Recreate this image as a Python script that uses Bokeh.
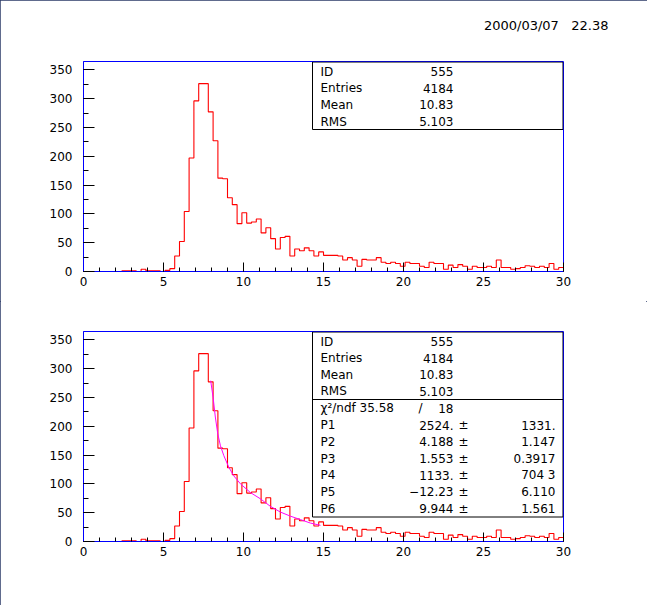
import numpy as np
from bokeh.plotting import figure
from bokeh.models import Range1d, SingleIntervalTicker, ColumnDataSource
from bokeh.layouts import column
from bokeh.embed import file_html
from bokeh.resources import INLINE
from bokeh.core.properties import value

# ---------------- data ----------------
x_min, x_max, n_bins = 0.0, 30.0, 100
counts = [0, 0, 0, 0, 0, 0, 0, 0, 1, 1,
          1, 0, 4, 1, 1, 1, 0, 2, 5, 27,
          52, 104, 197, 296, 326, 326, 277, 227, 162, 161,
          128, 116, 83, 102, 84, 86, 91, 67, 76, 57,
          39, 59, 61, 27, 39, 36, 41, 36, 27, 34,
          28, 28, 28, 27, 20, 24, 20, 9, 21, 20,
          20, 24, 16, 14, 16, 14, 9, 16, 14, 14,
          9, 7, 16, 14, 14, 4, 11, 7, 12, 9,
          4, 9, 7, 7, 9, 7, 20, 7, 7, 4,
          5, 7, 10, 9, 7, 9, 7, 14, 4, 7]

fit_x = [7.95, 8.10, 8.24, 8.39, 8.56, 8.77, 9.08, 9.39, 9.81, 10.43,
         11.06, 11.68, 12.31, 12.93, 13.56, 14.18, 14.81]
fit_y = [279, 250, 216, 187, 166, 149, 129, 114, 100, 85,
         74, 61, 51, 44, 38, 32, 28]

stat_labels = ["ID", "Entries", "Mean", "RMS"]
stat_values = ["555", "4184", "10.83", "5.103"]
chi_label = "\u03c7\u00b2/ndf 35.58"
chi_sep = "/"
chi_ndf = "18"
par_labels = ["P1", "P2", "P3", "P4", "P5", "P6"]
par_values = ["2524.", "4.188", "1.553", "1133.", "\u221212.23", "9.944"]
par_errors = ["1331.", "1.147", "0.3917", "704 3", "6.110", "1.561"]
date_text = "2000/03/07\u00a0\u00a0\u00a022.38"

y_top = 364.4
FONT = "DejaVu Sans"
FS = "12px"

# pixel helpers (frame: 480 x 210 px, left edge at page x=83)
def X(px):
    return (px - 83.0) / 480.0 * (x_max - x_min)

def Yf(py, bottom):
    return (bottom - py) / 210.0 * y_top

edges = list(np.linspace(x_min, x_max, n_bins + 1))
step_y = counts + [counts[-1]]


def make_panel(top_border, bottom_border, title=None):
    p = figure(frame_width=480, frame_height=210,
               min_border_left=83, min_border_right=84,
               min_border_top=top_border, min_border_bottom=bottom_border,
               x_range=Range1d(x_min, x_max), y_range=Range1d(0, y_top),
               output_backend="svg", toolbar_location=None, title=title)
    p.xgrid.visible = False
    p.ygrid.visible = False
    p.outline_line_color = "#0000ff"
    p.outline_line_width = 1
    p.background_fill_color = "white"
    p.border_fill_color = "white"
    p.xaxis.ticker = SingleIntervalTicker(interval=5, num_minor_ticks=5)
    p.yaxis.ticker = SingleIntervalTicker(interval=50, num_minor_ticks=2)
    for ax in (p.xaxis, p.yaxis):
        ax.axis_line_color = "#0000ff"
        ax.axis_line_width = 1
        ax.major_tick_out = 0
        ax.minor_tick_out = 0
        ax.major_tick_line_color = "black"
        ax.minor_tick_line_color = "black"
        ax.major_label_text_font = FONT
        ax.major_label_text_font_size = FS
        ax.major_label_text_color = "black"
    p.xaxis.major_tick_in = 9
    p.xaxis.minor_tick_in = 4
    p.yaxis.major_tick_in = 11
    p.yaxis.minor_tick_in = 5
    p.xaxis.major_label_standoff = 5
    p.yaxis.major_label_standoff = 11
    p.step(x=edges, y=step_y, mode="after", line_color="#ff0000", line_width=1.1)
    return p


def text(p, xs, ys, txt, align, size=FS):
    src = ColumnDataSource(dict(x=xs, y=ys, t=txt))
    p.text(x="x", y="y", text="t", source=src, text_font=value(FONT),
           text_font_size=size, text_align=align, text_baseline="middle",
           text_color="black")


# ---------------- top panel ----------------
p1 = make_panel(61, 30, title=date_text + "\n\u00a0")
p1.title.align = "right"
p1.title.offset = -45
p1.title.standoff = 28
p1.title.text_font = FONT
p1.title.text_font_size = "13px"
p1.title.text_font_style = "normal"
p1.title.text_color = "black"

b1 = 271.0
p1.quad(left=X(312), right=X(562.5), top=Yf(61.5, b1), bottom=Yf(129, b1),
        fill_color="white", line_color="black", line_width=1)
rows1 = [71, 87.5, 104, 121]
text(p1, [X(320)] * 4, [Yf(r, b1) for r in rows1], stat_labels, "left")
text(p1, [X(453)] * 4, [Yf(r, b1) for r in rows1], stat_values, "right")

# ---------------- bottom panel ----------------
p2 = make_panel(30, 64)
b2 = 541.0
p2.line(fit_x, fit_y, line_color="#ff00ff", line_width=1)
p2.quad(left=X(312), right=X(562.5), top=Yf(331.5, b2), bottom=Yf(516.5, b2),
        fill_color="white", line_color="black", line_width=1)
p2.segment(x0=[X(312)], y0=[Yf(399, b2)], x1=[X(562.5)], y1=[Yf(399, b2)],
           line_color="black", line_width=1)
rows2 = [341, 357.5, 374, 390.5]
text(p2, [X(320)] * 4, [Yf(r, b2) for r in rows2], stat_labels, "left")
text(p2, [X(453)] * 4, [Yf(r, b2) for r in rows2], stat_values, "right")
text(p2, [X(320)], [Yf(407.5, b2)], [chi_label], "left")
text(p2, [X(420)], [Yf(407.5, b2)], [chi_sep], "center")
text(p2, [X(453)], [Yf(407.5, b2)], [chi_ndf], "right")
rows3 = [424.5, 441.3, 458, 474.7, 491.3, 508]
text(p2, [X(320)] * 6, [Yf(r, b2) for r in rows3], par_labels, "left")
text(p2, [X(453)] * 6, [Yf(r, b2) for r in rows3], par_values, "right")
text(p2, [X(463)] * 6, [Yf(r, b2) for r in rows3], ["\u00b1"] * 6, "center")
text(p2, [X(555)] * 6, [Yf(r, b2) for r in rows3], par_errors, "right")

layout = column(p1, p2, spacing=0,
                styles={"outline": "1px solid #2b3a67", "outline-offset": "-1px"})

open("out.html", "w").write(file_html(layout, INLINE))
